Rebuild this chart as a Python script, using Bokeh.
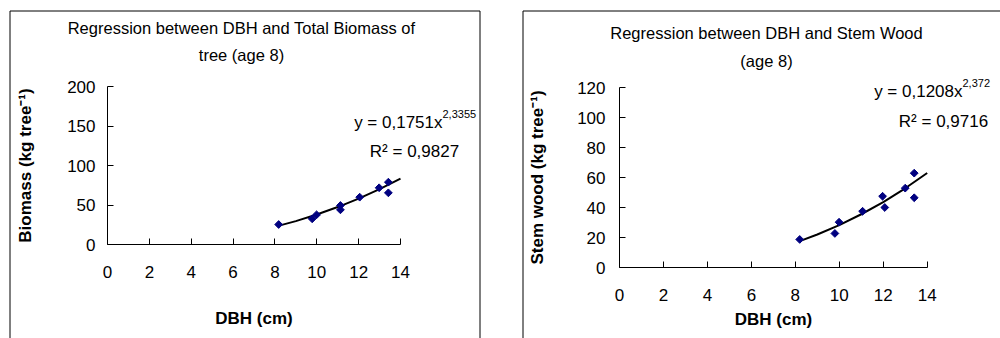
from math import pi
from bokeh.plotting import figure
from bokeh.models import Range1d, FixedTicker, Label, BoxAnnotation
from bokeh.layouts import row
from bokeh.embed import file_html
from bokeh.resources import INLINE

FONT = "Liberation Sans"

# ---------------- data ----------------
x_ticks = [0, 2, 4, 6, 8, 10, 12, 14]

# Total biomass (age 8)
dbh_biomass = [8.18, 9.78, 9.99, 11.13, 11.13, 12.05, 12.98, 13.42, 13.42]
biomass = [25.3, 32.5, 37.6, 49.4, 43.9, 59.9, 71.8, 78.9, 65.4]
biomass_trend_x = [8.2, 9, 10, 11, 12, 13, 14]
biomass_trend_y = [23.9, 29.6, 37.9, 47.4, 58.0, 70.0, 83.3]
biomass_ticks = [0, 50, 100, 150, 200]

# Stem wood (age 8)
dbh_stem = [8.20, 9.80, 9.99, 11.06, 11.97, 12.07, 13.00, 13.41, 13.41]
stem = [18.9, 22.9, 30.4, 37.7, 47.7, 40.2, 53.1, 63.1, 46.7]
stem_trend_x = [8.2, 9, 10, 11, 12, 13, 14]
stem_trend_y = [17.8, 22.2, 28.4, 35.7, 43.8, 53.0, 63.2]
stem_ticks = [0, 20, 40, 60, 80, 100, 120]

H = 338        # canvas height
TOP = 0        # page y of canvas top
XMAX = 14


def panel(page_x0, fig_w, ax_x0, ax_x1, ax_y0, ax_y1, ymax, yticks, xs, ys, tx, ty,
          title1, title2, t1y, t2y, tcx, ylabel, ylab_standoff, ytick_standoff,
          xtick_standoff, xlab_standoff, eq_main, eq_sup, eq_x, eq_y, r2, r2_x, r2_y,
          box):
    # ax_* are page pixel positions of the data origin / axis ends
    sx = (ax_x1 - ax_x0) / XMAX
    sy = (ax_y0 - ax_y1) / ymax

    def dx(px):
        return (px - ax_x0) / sx

    def dy(py):
        return (ax_y0 - py) / sy

    p = figure(width=fig_w, height=H,
               x_range=Range1d(dx(page_x0), dx(page_x0 + fig_w)),
               y_range=Range1d(dy(TOP + H), dy(TOP)),
               min_border=0, min_border_left=0, min_border_right=0,
               min_border_top=0, min_border_bottom=0,
               output_backend="svg", toolbar_location=None)
    p.outline_line_color = None
    p.xgrid.visible = False
    p.ygrid.visible = False
    p.background_fill_color = "white"
    p.border_fill_color = "white"

    # axes drawn at the data origin
    p.xaxis.ticker = FixedTicker(ticks=x_ticks)
    p.yaxis.ticker = FixedTicker(ticks=yticks)
    p.xaxis.fixed_location = 0
    p.yaxis.fixed_location = 0
    p.xaxis.bounds = (0, XMAX)
    p.yaxis.bounds = (0, ymax)
    for ax in (p.xaxis[0], p.yaxis[0]):
        ax.axis_line_color = "black"
        ax.major_tick_line_color = "black"
        ax.minor_tick_line_color = None
        ax.major_tick_out = 0
        ax.major_tick_in = 6
        ax.major_label_text_font = FONT
        ax.major_label_text_font_size = "17px"
        ax.major_label_text_color = "black"
        ax.axis_label_text_font = FONT
        ax.axis_label_text_font_size = "17px"
        ax.axis_label_text_font_style = "bold"
        ax.axis_label_text_color = "black"
    p.xaxis.axis_label = "DBH (cm)"
    p.yaxis.axis_label = ylabel
    p.yaxis.axis_label_standoff = ylab_standoff
    p.yaxis.major_label_standoff = ytick_standoff
    p.xaxis.major_label_standoff = xtick_standoff
    p.xaxis.axis_label_standoff = xlab_standoff

    # outer chart border
    p.add_layout(BoxAnnotation(left=dx(box[0]), right=dx(box[1]), top=dy(box[2]),
                               bottom=dy(box[3]), fill_alpha=0, fill_color=None,
                               line_color="black", line_width=1, line_alpha=1))

    # trend line + points
    p.line(tx, ty, line_color="black", line_width=2)
    p.scatter(xs, ys, marker="square", angle=pi / 4, size=5.5,
              fill_color="#000080", line_color="#000080")

    # titles
    for txt, yy in ((title1, t1y), (title2, t2y)):
        p.add_layout(Label(x=dx(tcx), y=dy(yy), text=txt, text_font=FONT,
                           text_font_size="16.5px", text_align="center",
                           text_baseline="middle", text_color="black"))
    # equation
    p.add_layout(Label(x=dx(eq_x), y=dy(eq_y), text=eq_main, text_font=FONT,
                       text_font_size="17px", text_align="right",
                       text_baseline="middle", text_color="black"))
    p.add_layout(Label(x=dx(eq_x), y=dy(eq_y - 9), text=eq_sup, text_font=FONT,
                       text_font_size="11px", text_align="left",
                       text_baseline="middle", text_color="black"))
    p.add_layout(Label(x=dx(r2_x), y=dy(r2_y), text=r2, text_font=FONT,
                       text_font_size="17px", text_align="center",
                       text_baseline="middle", text_color="black"))
    return p


p1 = panel(0, 500, 107, 400, 244, 86, 200, biomass_ticks, dbh_biomass, biomass,
           biomass_trend_x, biomass_trend_y,
           "Regression between DBH and Total Biomass of", "tree (age 8)", 27, 54, 241,
           "Biomass (kg tree\u207b\u00b9)", 29, 12, 21, 28,
           "y = 0,1751x", "2,3355", 442, 122, "R\u00b2 = 0,9827", 414, 151,
           (9.5, 479.5, 10.5, 400))

p2 = panel(500, 500, 619, 926.7, 267.3, 87.3, 120, stem_ticks, dbh_stem, stem,
           stem_trend_x, stem_trend_y,
           "Regression between DBH and Stem Wood", "(age 8)", 32, 60, 766,
           "Stem wood (kg tree\u207b\u00b9)", 27, 14, 21, 6,
           "y = 0,1208x", "2,372", 962, 91, "R\u00b2 = 0,9716", 943, 121,
           (522.5, 1100, 10.5, 400))

layout = row(p1, p2, spacing=0)
open("out.html", "w").write(file_html(layout, INLINE))
